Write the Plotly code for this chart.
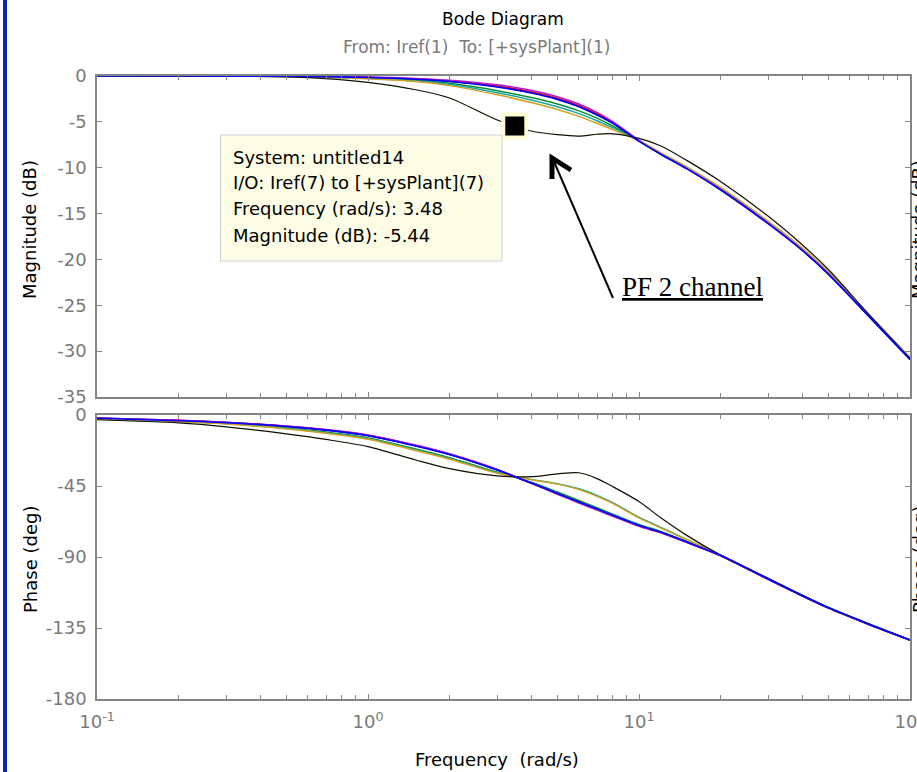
import plotly.graph_objects as go

# Frequency grid (rad/s) shared by all channels
FREQ = [0.1, 0.2, 0.3, 0.5, 0.7, 1, 1.5, 2, 3, 4, 5, 6, 7, 8, 10, 12, 15, 20, 30, 40, 50, 70, 100]

# Magnitude (dB) per channel
MAG_CH1 = [0, 0, -0.01, -0.03, -0.07, -0.16, -0.34, -0.58, -1.15, -1.8, -2.5, -3.3, -4.2, -5.1, -7.1, -8.5, -10.1, -12.4, -16.1, -19.0, -21.6, -26.1, -30.9]
MAG_CH2 = [0, 0, -0.01, -0.04, -0.1, -0.22, -0.46, -0.8, -1.6, -2.35, -3.05, -3.8, -4.6, -5.45, -7.1, -8.5, -10.0, -12.3, -16.0, -18.9, -21.5, -26.0, -30.8]
MAG_CH3 = [0, 0, -0.01, -0.02, -0.06, -0.14, -0.31, -0.53, -1.08, -1.72, -2.42, -3.22, -4.12, -5.05, -7.05, -8.45, -10.05, -12.35, -16.05, -18.95, -21.55, -26.0, -30.8]
MAG_CH4 = [0, 0, -0.01, -0.05, -0.12, -0.26, -0.53, -0.92, -1.82, -2.62, -3.36, -4.1, -4.88, -5.65, -7.05, -8.4, -9.95, -12.2, -15.9, -18.8, -21.4, -25.9, -30.7]
MAG_CH5 = [0, 0, 0, -0.01, -0.04, -0.1, -0.26, -0.46, -0.96, -1.56, -2.26, -3.06, -3.98, -4.98, -7.0, -8.4, -10.0, -12.3, -16.0, -18.9, -21.5, -26.0, -30.8]
MAG_CH6 = [0, 0, -0.01, -0.06, -0.14, -0.3, -0.6, -1.05, -2.05, -2.9, -3.65, -4.4, -5.15, -5.85, -7.05, -8.35, -9.9, -12.15, -15.85, -18.75, -21.35, -25.9, -30.7]
MAG_CH7 = [0, -0.01, -0.03, -0.1, -0.28, -0.7, -1.5, -2.4, -4.8, -6.0, -6.4, -6.55, -6.35, -6.3, -6.8, -7.6, -9.2, -11.5, -15.3, -18.4, -21.1, -25.9, -30.8]
MAG_CH8 = [0, 0, -0.01, -0.03, -0.08, -0.17, -0.36, -0.6, -1.2, -1.85, -2.55, -3.35, -4.25, -5.15, -7.1, -8.5, -10.1, -12.4, -16.1, -19.0, -21.6, -26.1, -30.9]

# Phase (deg) per channel
PH_CH1 = [-2.0, -3.5, -4.8, -7.2, -9.5, -13.0, -19.5, -25.0, -34.8, -43.0, -49.6, -55.0, -59.5, -63.5, -70.0, -74.1, -80.4, -89.0, -104.0, -114.5, -122.2, -132.4, -142.6]
PH_CH2 = [-2.3, -3.9, -5.3, -8.2, -10.8, -14.5, -21.5, -27.0, -36.2, -42.6, -48.8, -54.2, -58.7, -62.8, -69.4, -73.8, -80.2, -88.9, -103.8, -114.3, -122.0, -132.2, -142.5]
PH_CH3 = [-2.0, -3.4, -4.7, -7.1, -9.4, -12.8, -19.3, -24.8, -34.6, -43.2, -49.9, -55.4, -59.9, -63.8, -70.3, -74.4, -80.6, -89.2, -104.2, -114.6, -122.3, -132.5, -142.7]
PH_CH4 = [-2.4, -4.0, -5.5, -8.5, -11.2, -15.0, -22.0, -27.6, -36.6, -40.8, -43.6, -46.8, -51.0, -55.6, -64.8, -71.1, -78.9, -88.8, -103.6, -114.2, -121.9, -132.1, -142.4]
PH_CH5 = [-1.9, -3.3, -4.6, -7.0, -9.2, -12.6, -19.0, -24.6, -34.5, -43.3, -50.2, -55.8, -60.3, -64.2, -70.6, -74.7, -80.9, -89.3, -104.3, -114.7, -122.4, -132.6, -142.8]
PH_CH6 = [-2.5, -4.1, -5.7, -8.8, -11.5, -15.4, -22.5, -28.0, -36.9, -41.0, -43.8, -47.2, -51.5, -56.0, -65.2, -71.5, -79.1, -88.8, -103.7, -114.3, -122.1, -132.3, -142.6]
PH_CH7 = [-3.0, -5.0, -7.5, -12.0, -15.5, -20.0, -28.5, -34.0, -38.6, -39.1, -37.3, -36.6, -40.3, -45.4, -54.8, -65.0, -76.3, -88.8, -103.6, -114.2, -122.0, -132.2, -142.5]
PH_CH8 = [-2.1, -3.6, -4.9, -7.3, -9.6, -13.1, -19.6, -25.1, -34.9, -43.1, -49.7, -55.1, -59.6, -63.6, -70.1, -74.2, -80.5, -89.0, -104.0, -114.5, -122.2, -132.4, -142.6]

MAGS = [MAG_CH1, MAG_CH2, MAG_CH3, MAG_CH4, MAG_CH5, MAG_CH6, MAG_CH7, MAG_CH8]
PHASES = [PH_CH1, PH_CH2, PH_CH3, PH_CH4, PH_CH5, PH_CH6, PH_CH7, PH_CH8]
COLORS = ["#0000ff", "#108a30", "#e00000", "#18a8a8", "#b020c8", "#d4a020", "#101000", "#0000ff"]
WIDTHS = [1.6, 1.5, 1.5, 1.5, 1.5, 1.5, 1.2, 1.6]

# Data tip on channel 7
TIP_FREQ = 3.48
TIP_MAG = -5.44

X_TICKS = [0.1, 1, 10, 100]
X_TICKTEXT = ["10<sup>-1</sup>", "10<sup>0</sup>", "10<sup>1</sup>", "10<sup>2</sup>"]
X_MINOR = [k * 10 ** e for e in (-1, 0, 1) for k in range(2, 10)]
MAG_TICKS = [0, -5, -10, -15, -20, -25, -30, -35]
PH_TICKS = [0, -45, -90, -135, -180]

W, H = 917, 772
ML, MR, MT, MB = 97, 7, 76, 73
PW, PH = W - ML - MR, H - MT - MB


def px(x):
    return (x - ML) / PW


def py(y):
    return 1 - (y - MT) / PH


FONT = "DejaVu Sans, Arial, sans-serif"
GREY = "#7a7a7a"
AXIS = "#858585"

fig = go.Figure()

for i, (m, c, w) in enumerate(zip(MAGS, COLORS, WIDTHS)):
    fig.add_trace(go.Scatter(x=FREQ, y=m, mode="lines", xaxis="x", yaxis="y",
                             line=dict(color=c, width=w, shape="spline", smoothing=0.8),
                             name=f"ch{i+1}", showlegend=False))
for i, (p, c, w) in enumerate(zip(PHASES, COLORS, WIDTHS)):
    fig.add_trace(go.Scatter(x=FREQ, y=p, mode="lines", xaxis="x2", yaxis="y2",
                             line=dict(color=c, width=w, shape="spline", smoothing=0.8),
                             name=f"ch{i+1}", showlegend=False))

fig.add_trace(go.Scatter(x=[TIP_FREQ], y=[TIP_MAG], mode="markers", xaxis="x", yaxis="y",
                         marker=dict(symbol="square", size=23, color="black",
                                     line=dict(color="#fffbd2", width=4)),
                         showlegend=False))

common_x = dict(type="log", range=[-1, 2], showgrid=False, zeroline=False, automargin=False,
                showline=True, linecolor=AXIS, linewidth=1.5, mirror="ticks",
                ticks="inside", ticklen=5, tickcolor=AXIS, tickwidth=1,
                tickvals=X_TICKS, ticktext=X_TICKTEXT,
                minor=dict(ticks="inside", ticklen=4, tickcolor=AXIS, tickwidth=1,
                           tickvals=X_MINOR, showgrid=False))
common_y = dict(showgrid=False, zeroline=False, showline=True, linecolor=AXIS, automargin=False,
                linewidth=1.5, mirror="ticks", ticks="inside", ticklen=5,
                tickcolor=AXIS, tickfont=dict(family=FONT, size=18, color=GREY),
                ticklabelstandoff=5)

fig.update_layout(
    width=W, height=H,
    margin=dict(l=ML, r=MR, t=MT, b=MB, autoexpand=False),
    paper_bgcolor="white", plot_bgcolor="white",
    font=dict(family=FONT, size=18, color="black"),
    xaxis=dict(common_x, domain=[0, 1], anchor="y", matches="x2", showticklabels=False),
    yaxis=dict(common_y, domain=[py(397), 1], range=[-35, 0], tickvals=MAG_TICKS,
               ticktext=[str(v) for v in MAG_TICKS]),
    xaxis2=dict(common_x, domain=[0, 1], anchor="y2", showticklabels=True,
                tickfont=dict(family=FONT, size=18, color=GREY), ticklabeloverflow="allow",
                ticklabelstandoff=6),
    yaxis2=dict(common_y, domain=[0, py(415)], range=[-180, 0], tickvals=PH_TICKS,
                ticktext=[str(v) for v in PH_TICKS]),
)

shapes = [
    # left frame bar
    dict(type="rect", xref="paper", yref="paper", x0=px(3), x1=px(7), y0=py(H + 5), y1=py(-5),
         fillcolor="#0b22b5", line=dict(width=0), layer="above"),
    # data tip box
    dict(type="rect", xref="paper", yref="paper", x0=px(220.5), x1=px(502), y0=py(261), y1=py(135),
         fillcolor="#fdfde6", line=dict(color="#cfcfcf", width=1), layer="above"),
    # arrow shaft
    dict(type="path", xref="paper", yref="paper",
         path=f"M {px(613)} {py(298)} L {px(552)} {py(157)}",
         line=dict(color="black", width=2), layer="above"),
    # arrow head
    dict(type="path", xref="paper", yref="paper",
         path=f"M {px(552)} {py(179)} L {px(552)} {py(158)} L {px(571)} {py(170)}",
         line=dict(color="black", width=5), layer="above"),
]
fig.update_layout(shapes=shapes)

ann = []


def text(x, y, s, size=18, color="black", xanchor="center", angle=0, fam=FONT):
    ann.append(dict(xref="paper", yref="paper", x=px(x), y=py(y), text=s, showarrow=False,
                    xanchor=xanchor, yanchor="middle", textangle=angle,
                    font=dict(family=fam, size=size, color=color)))


text(503, 19, "Bode Diagram", size=17)
text(476, 47, "From: Iref(1)  To: [+sysPlant](1)", size=17, color=GREY)
text(30, 230, "Magnitude (dB)", angle=-90)
text(30, 560, "Phase (deg)", angle=-90)
text(919, 230, "Magnitude (dB)", angle=-90)
text(919, 560, "Phase (deg)", angle=-90)
text(497, 759, "Frequency  (rad/s)")
tip_lines = ["System: untitled14", "I/O: Iref(7) to [+sysPlant](7)",
             f"Frequency (rad/s): {TIP_FREQ}", f"Magnitude (dB): {TIP_MAG}"]
for k, s in enumerate(tip_lines):
    text(231, 157 + 26 * k, s, xanchor="left")
text(692, 287, "<u>PF 2 channel</u>", size=27, fam="Liberation Serif, Times New Roman, serif")
fig.update_layout(annotations=ann)

fig.write_html("out.html")
